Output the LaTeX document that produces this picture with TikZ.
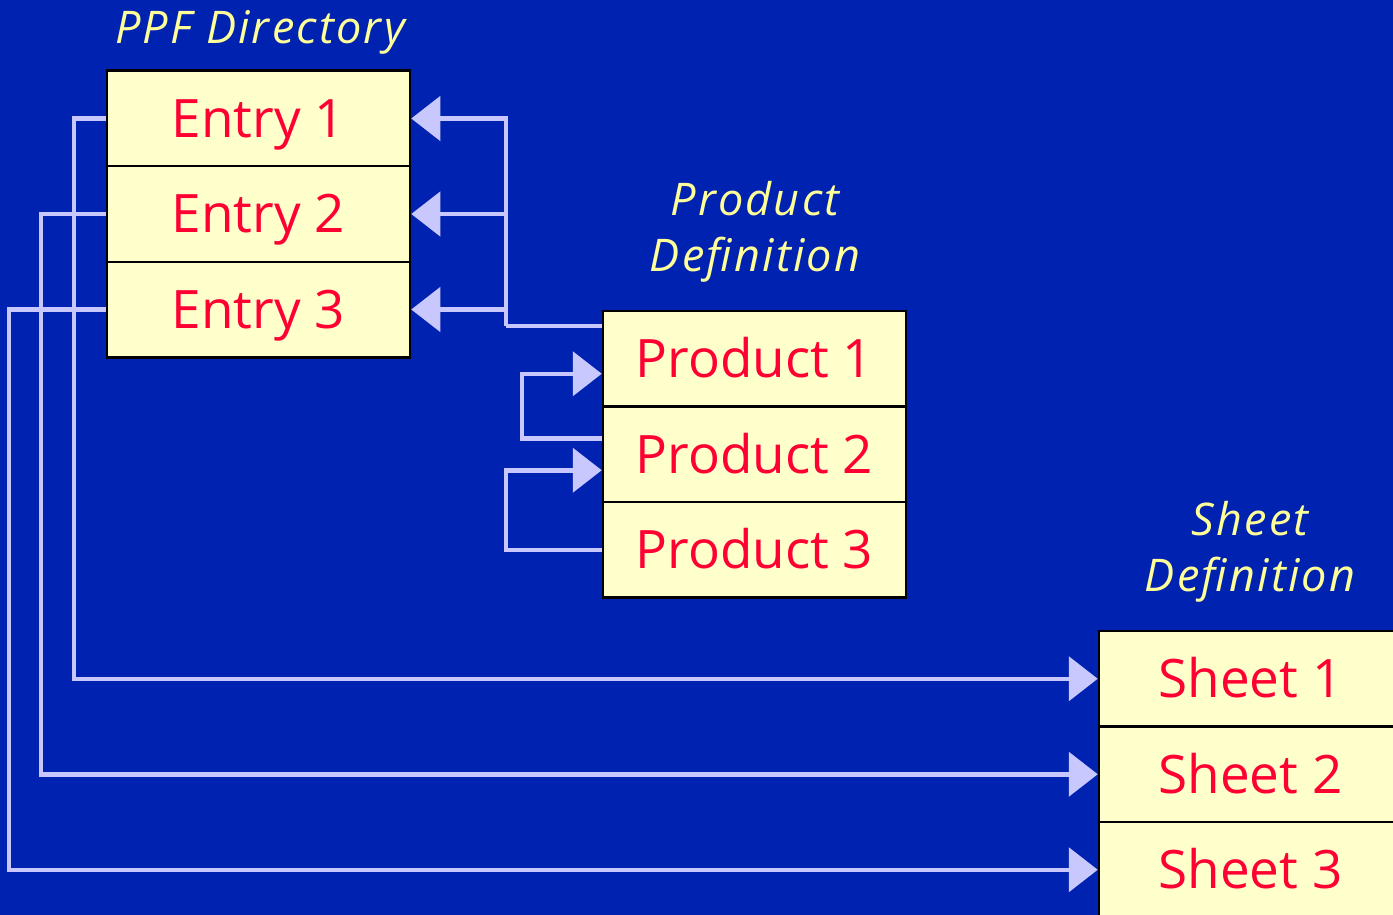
\documentclass[tikz,border=0pt]{standalone}
\usepackage{fontspec}
\setmainfont{Open Sans}
\newfontfamily\ttlfont[LetterSpace=5]{Open Sans}
\usetikzlibrary{arrows.meta}
\definecolor{bgblue}{HTML}{0022B0}
\definecolor{boxfill}{HTML}{FFFFCC}
\definecolor{txtred}{HTML}{FF0033}
\definecolor{ttlyellow}{HTML}{FFFF99}
\definecolor{linec}{HTML}{C8C8FF}
\begin{document}
\begin{tikzpicture}[x=1pt,y=-1pt,
  cell/.style={draw=black, line width=2.5pt, fill=boxfill, minimum width=303pt,
    minimum height=95.5pt, inner sep=0pt, text=txtred,
    font=\fontsize{53}{60}\selectfont, text height=38pt, text depth=0pt},
  ttl/.style={text=ttlyellow, font=\ttlfont\fontsize{45}{52}\selectfont\itshape, inner sep=0pt, anchor=base},
  conn/.style={draw=linec, line width=4.5pt},
  arr/.style={conn, -{Triangle[length=29pt,width=44pt]}}]
\fill[bgblue] (0,0) rectangle (1393,915);
\useasboundingbox (0,0) rectangle (1393,915);
\clip (0,0) rectangle (1393,915);
% titles
\node[ttl] (t1) at (260,44) {PPF Directory};
\node[ttl] (t2a) at (755,215) {Product};
\node[ttl] (t2b) at (755,271) {Definition};
\node[ttl] (t3a) at (1250,535) {Sheet};
\node[ttl] (t3b) at (1250,591) {Definition};
% boxes
\node[cell] (e1) at (258.5,118.5) {Entry 1};
\node[cell] (e2) at (258.5,214) {Entry 2};
\node[cell] (e3) at (258.5,309.5) {Entry 3};
\node[cell] (p1) at (754.5,358.75) {Product 1};
\node[cell] (p2) at (754.5,454.25) {Product 2};
\node[cell] (p3) at (754.5,549.75) {Product 3};
\node[cell] (s1) at (1250.5,678.75) {Sheet 1};
\node[cell] (s2) at (1250.5,774.25) {Sheet 2};
\node[cell] (s3) at (1250.5,869.75) {Sheet 3};
% entries to sheets
\draw[arr] (e1.west) -- ++(-32,0) |- (s1.west);
\draw[arr] (e2.west) -- ++(-65,0) |- (s2.west);
\draw[arr] (e3.west) -- ++(-97,0) |- (s3.west);
% product 1 to entries
\draw[conn] ([yshift=33pt]p1.west) -- ++(-96,0) coordinate (j);
\draw[arr] (j) |- (e1.east);
\draw[arr] (j) |- (e2.east);
\draw[arr] (j) |- (e3.east);
% product links
\draw[arr] ([yshift=16pt]p2.west) -- ++(-80,0) |- ([yshift=-15pt]p1.west);
\draw[arr] (p3.west) -- ++(-96,0) |- ([yshift=-16pt]p2.west);
\end{tikzpicture}
\end{document}
